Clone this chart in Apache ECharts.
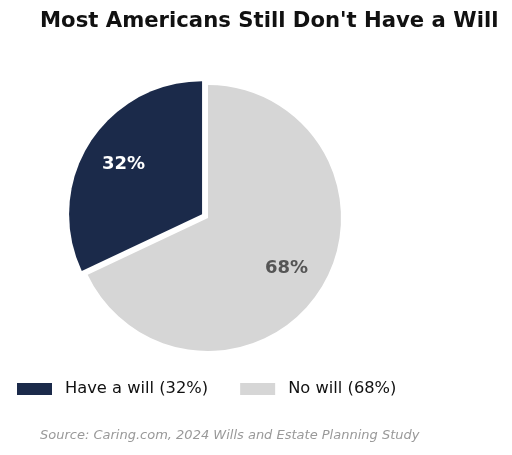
<!DOCTYPE html>
<html>
<head>
<meta charset="utf-8">
<script src="https://cdn.jsdelivr.net/npm/echarts@6/dist/echarts.min.js"></script>
<style>
    html, body { margin: 0; padding: 0; background: #fff; }
    #chart { width: 512px; height: 455px; }
</style>
</head>
<body>
<div id="chart"></div>
<script>
const categories = ['Have a will', 'No will'];
const shares = [32, 68];
const sliceColors = ['#1b2a4a', '#d6d6d6'];
const labelColors = ['#ffffff', '#555555'];

const font = 'DejaVu Sans';

const pieData = categories.map((name, i) => ({
    name,
    value: shares[i],
    selected: i === 0,
    itemStyle: { color: sliceColors[i] }
}));

const labelData = categories.map((name, i) => ({
    name,
    value: shares[i],
    selected: i === 0,
    label: { color: labelColors[i] }
}));

const option = {
    animation: false,
    title: [
        {
            text: "Most Americans Still Don't Have a Will",
            left: 35,
            top: 6,
            textStyle: {
                fontFamily: font,
                fontSize: 21.2,
                fontWeight: 'bold',
                color: '#111'
            }
        },
        {
            text: 'Source: Caring.com, 2024 Wills and Estate Planning Study',
            left: 35,
            top: 424,
            textStyle: {
                fontFamily: font,
                fontSize: 13,
                fontStyle: 'italic',
                fontWeight: 'normal',
                color: '#999'
            }
        }
    ],
    legend: {
        left: 12,
        top: 376,
        icon: 'rect',
        itemWidth: 35,
        itemHeight: 12,
        itemGap: 32,
        selectedMode: false,
        data: categories.map((name, i) => ({
            name,
            itemStyle: { color: sliceColors[i] }
        })),
        formatter: name => name + ' (' + shares[categories.indexOf(name)] + '%)',
        textStyle: {
            fontFamily: font,
            fontSize: 16.3,
            color: '#111',
            padding: [0, 0, 0, 8]
        }
    },
    series: [
        {
            type: 'pie',
            center: [208, 218],
            radius: 133,
            startAngle: 90,
            clockwise: false,
            selectedMode: 'single',
            selectedOffset: 7,
            label: { show: false },
            labelLine: { show: false },
            emphasis: { disabled: true },
            data: pieData
        },
        {
            // transparent ring, only to place labels at ~0.7 of the radius
            type: 'pie',
            silent: true,
            center: [208, 218],
            radius: [47, 133],
            startAngle: 90,
            clockwise: false,
            selectedMode: 'single',
            selectedOffset: 7,
            itemStyle: { color: 'rgba(0,0,0,0)' },
            label: {
                show: true,
                position: 'inside',
                formatter: '{c}%',
                fontFamily: font,
                fontSize: 18,
                fontWeight: 'bold'
            },
            labelLine: { show: false },
            emphasis: { disabled: true },
            data: labelData
        }
    ]
};

const chart = echarts.init(document.getElementById('chart'));
chart.setOption(option);
</script>
</body>
</html>
